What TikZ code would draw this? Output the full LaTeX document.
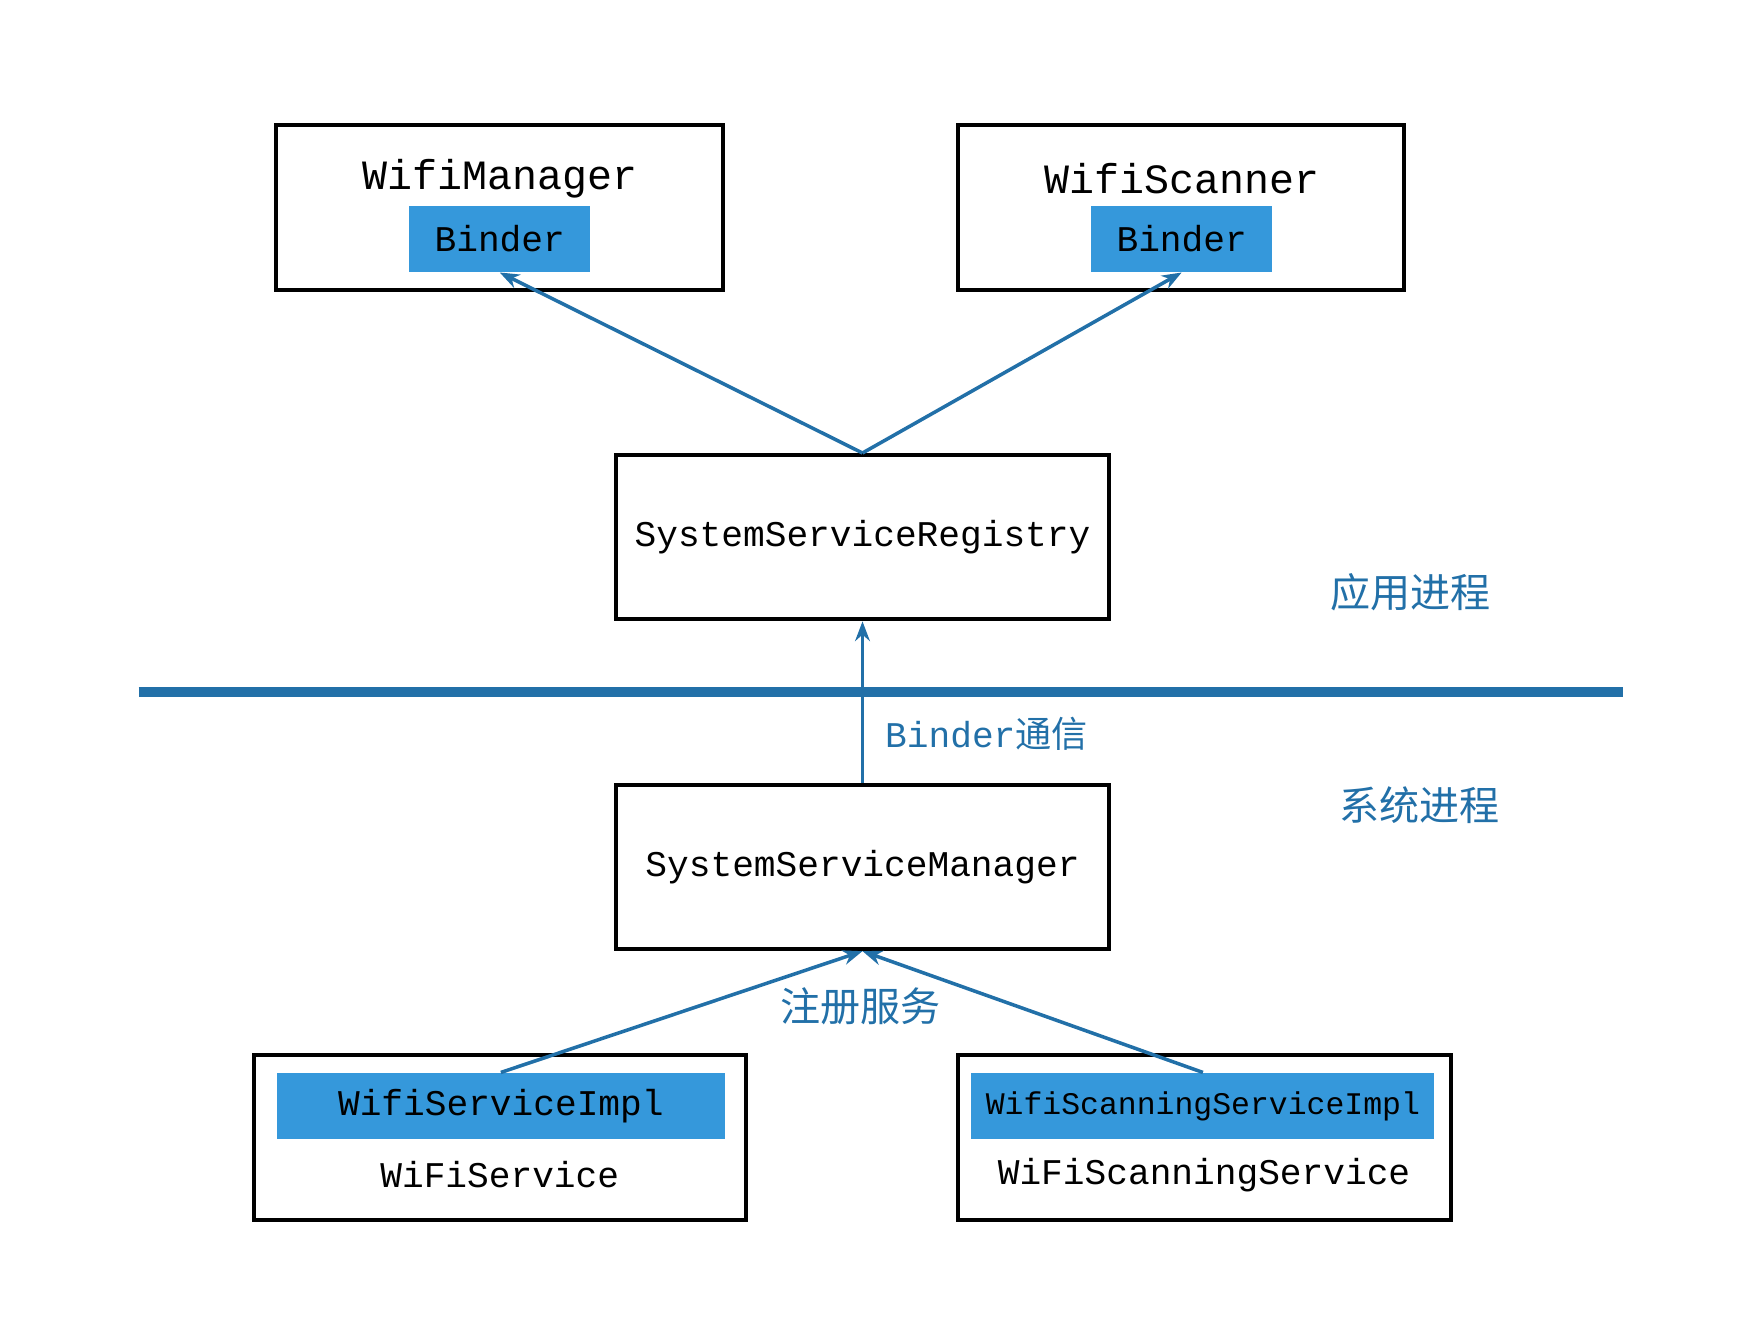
\documentclass[tikz,border=0pt]{standalone}
\usepackage{fontspec}
\usetikzlibrary{arrows.meta}
\setmainfont{Liberation Mono}
\newfontfamily\cjk{Noto Sans CJK SC}
\definecolor{binderblue}{HTML}{3598DB}
\definecolor{linkblue}{HTML}{2270A8}
\tikzset{
  box/.style={draw, line width=1pt, minimum width=#1},
  chip/.style={fill=binderblue, inner sep=0pt, minimum height=0.59cm},
  link/.style={draw=linkblue, line width=0.9pt, -{Stealth[length=5pt]}},
  note/.style={text=linkblue, font=\cjk\fontsize{10.2}{12}\selectfont}
}
\begin{document}
\begin{tikzpicture}[x=0.01cm, y=-0.01cm]
  \useasboundingbox (0,0) rectangle (1560,1190);
  % app process
  \draw[line width=1pt] (247,112) rectangle (647,259);
  \draw[line width=1pt] (857,112) rectangle (1256,259);
  \node[font=\fontsize{10.6}{12}\selectfont] at (447,160) {WifiManager};
  \node[font=\fontsize{10.6}{12}\selectfont] at (1057,160) {WifiScanner};
  \node[chip, minimum width=1.62cm, font=\fontsize{9.2}{11}\selectfont] (b1) at (447,213.5) {Binder};
  \node[chip, minimum width=1.62cm, font=\fontsize{9.2}{11}\selectfont] (b2) at (1057,213.5) {Binder};
  \node[draw, line width=1pt, minimum width=4.41cm, minimum height=1.47cm,
        font=\fontsize{9.2}{11}\selectfont] (reg) at (771.5,480.5) {SystemServiceRegistry};
  \node[note] at (1262,530) {应用进程};
  % divider
  \draw[linkblue, line width=2.5pt] (124,619) -- (1452,619);
  % system process
  \node[note] at (1270,720) {系统进程};
  \node[draw, line width=1pt, minimum width=4.41cm, minimum height=1.47cm,
        font=\fontsize{9.2}{11}\selectfont] (mgr) at (771.5,775.5) {SystemServiceManager};
  \draw[line width=1pt] (227,944) rectangle (667,1091);
  \draw[line width=1pt] (857,944) rectangle (1298,1091);
  \node[chip, minimum width=4.0cm, font=\fontsize{9.2}{11}\selectfont] (impl1) at (448,989.5) {WifiServiceImpl};
  \node[chip, minimum width=4.14cm, font=\fontsize{8}{10}\selectfont] (impl2) at (1076,989.5) {WifiScanningServiceImpl};
  \node[font=\fontsize{9.2}{11}\selectfont] at (447,1051) {WiFiService};
  \node[font=\fontsize{9.2}{11}\selectfont] at (1077,1051) {WiFiScanningService};
  % connectors
  \draw[link] (reg.north) -- (b1.south);
  \draw[link] (reg.north) -- (b2.south);
  \draw[link] (mgr.north) -- node[right, text=linkblue, font=\fontsize{9.2}{11}\selectfont, xshift=2pt, yshift=-8pt] {Binder{\cjk 通信}} (reg.south);
  \draw[link] (impl1.north) -- (mgr.south);
  \draw[link] (impl2.north) -- (mgr.south);
  \node[note] at (770,900) {注册服务};
\end{tikzpicture}
\end{document}
